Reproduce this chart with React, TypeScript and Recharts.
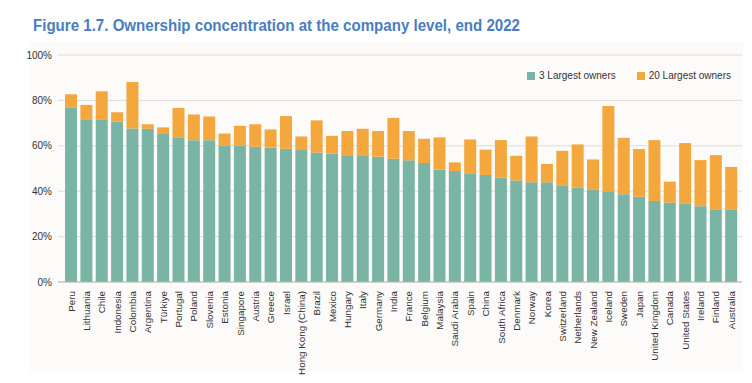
import React from "react";
import { BarChart, Bar, XAxis, YAxis, CartesianGrid } from "recharts";

const countries = [
  "Peru", "Lithuania", "Chile", "Indonesia", "Colombia", "Argentina", "Türkiye", "Portugal", "Poland", "Slovenia",
  "Estonia", "Singapore", "Austria", "Greece", "Israel", "Hong Kong (China)", "Brazil", "Mexico", "Hungary", "Italy",
  "Germany", "India", "France", "Belgium", "Malaysia", "Saudi Arabia", "Spain", "China", "South Africa", "Denmark",
  "Norway", "Korea", "Switzerland", "Netherlands", "New Zealand", "Iceland", "Sweden", "Japan", "United Kingdom", "Canada",
  "United States", "Ireland", "Finland", "Australia",
];

const largest3 = [
  76.7, 71.4, 71.4, 70.6, 67.6, 67.5, 65.2, 63.5, 62.5, 62.5,
  60.0, 60.0, 59.6, 59.3, 58.7, 58.1, 57.0, 56.5, 55.8, 55.8,
  55.2, 54.3, 53.6, 52.4, 49.6, 48.9, 47.6, 47.1, 46.0, 44.7,
  43.9, 43.9, 42.6, 41.6, 40.6, 39.7, 38.7, 37.6, 35.7, 35.0,
  34.4, 33.4, 32.1, 32.1,
];

const largest20 = [
  82.7, 78.0, 84.0, 74.8, 88.1, 69.5, 68.1, 76.7, 73.8, 72.9,
  65.4, 68.8, 69.5, 67.2, 73.1, 64.1, 71.2, 64.4, 66.5, 67.5,
  66.5, 72.3, 66.5, 63.1, 63.7, 52.7, 62.8, 58.3, 62.5, 55.6,
  64.1, 52.0, 57.8, 60.6, 54.0, 77.5, 63.5, 58.6, 62.5, 44.2,
  61.2, 53.7, 55.9, 50.7,
];

const yTicks = [0, 20, 40, 60, 80, 100];

const data = countries.map((c, i) => ({
  country: c,
  top3: largest3[i],
  top20: +(largest20[i] - largest3[i]).toFixed(1),
}));

const GREEN = "#79b4a5";
const ORANGE = "#f3a73d";
const FONT = "'Liberation Sans', Arial, sans-serif";

const XTick = (props: any) => {
  const { x, y, payload } = props;
  return (
    <text
      x={x}
      y={y}
      transform={`rotate(-90, ${x}, ${y})`}
      textAnchor="end"
      dominantBaseline="central"
      fontSize={9.8}
      fontFamily={FONT}
      fill="#333"
    >
      {payload.value}
    </text>
  );
};

export default function App() {
  return (
    <div style={{ position: "absolute", left: 0, top: 0, width: 752, height: 383, background: "#fff", overflow: "hidden" }}>
      <div style={{ position: "absolute", left: 30, top: 42, width: 713, height: 330, background: "#fcfbf9" }} />
      <svg style={{ position: "absolute", left: 0, top: 0 }} width={752} height={40}>
        <text
          x={33}
          y={31}
          fontSize={16}
          fontWeight="bold"
          fontFamily={FONT}
          fill="#4a7dc0"
          textLength={487}
          lengthAdjust="spacingAndGlyphs"
        >
          Figure  1.7. Ownership concentration at the company level, end 2022
        </text>
      </svg>
      <div style={{ position: "absolute", left: 0, top: 0 }}>
        <BarChart
          width={752}
          height={383}
          data={data}
          margin={{ top: 55, right: 10, bottom: 0, left: 0 }}
          barCategoryGap="10%"
        >
          <CartesianGrid vertical={false} stroke="#dcdcdc" />
          <XAxis
            dataKey="country"
            interval={0}
            height={101}
            tick={<XTick />}
            tickLine={false}
            axisLine={{ stroke: "#b8b8b8" }}
            tickMargin={0}
            tickSize={9}
            padding={{ left: 5.5, right: 3 }}
          />
          <YAxis
            width={58}
            domain={[0, 100]}
            ticks={yTicks}
            tickFormatter={(v: number) => `${v}%`}
            axisLine={false}
            tickLine={false}
            tickSize={6}
            tickMargin={0}
            tick={{ fontSize: 10, fill: "#333", fontFamily: FONT }}
          />
          <Bar dataKey="top3" name="3 Largest owners" stackId="a" fill={GREEN} isAnimationActive={false} />
          <Bar dataKey="top20" name="20 Largest owners" stackId="a" fill={ORANGE} isAnimationActive={false} />
        </BarChart>
      </div>
      <div
        style={{
          position: "absolute",
          left: 527,
          top: 70,
          display: "flex",
          alignItems: "center",
          fontFamily: FONT,
          fontSize: 10,
          color: "#333",
          whiteSpace: "nowrap",
        }}
      >
        <span style={{ width: 8, height: 8, background: GREEN, display: "inline-block", marginRight: 4 }} />
        <span style={{ marginRight: 21 }}>3 Largest owners</span>
        <span style={{ width: 8, height: 8, background: ORANGE, display: "inline-block", marginRight: 4 }} />
        <span>20 Largest owners</span>
      </div>
    </div>
  );
}
